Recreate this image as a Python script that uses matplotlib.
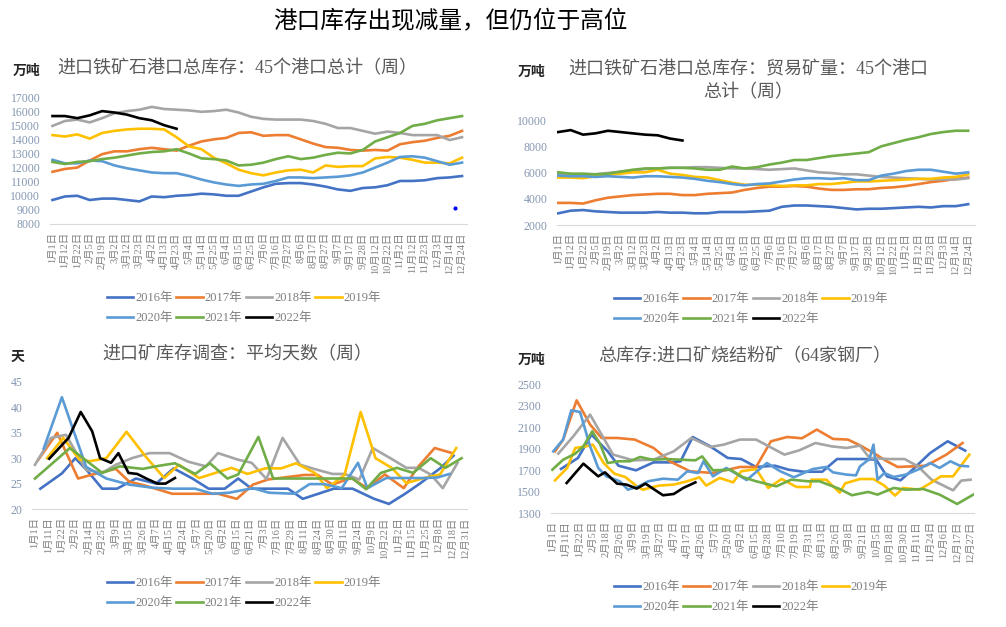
import numpy as np
import matplotlib
matplotlib.use('Agg')
from matplotlib import pyplot as plt

plt.rcParams['font.family'] = ['Liberation Serif', 'Noto Sans CJK SC']

W, H = 1006, 627

anos = ['2016年', '2017年', '2018年', '2019年', '2020年', '2021年', '2022年']
cores = ['#4472C4', '#ED7D31', '#A5A5A5', '#FFC000', '#5B9BD5', '#70AD47', '#000000']

# ---- graficos de cima: um valor por rotulo do eixo
datas_cima = ['1月1日', '1月12日', '1月22日', '2月5日', '2月19日', '3月2日', '3月12日', '3月23日',
              '4月2日', '4月13日', '4月23日', '5月4日', '5月14日', '5月25日', '6月4日', '6月15日',
              '6月25日', '7月6日', '7月16日', '7月27日', '8月6日', '8月17日', '8月27日', '9月7日',
              '9月17日', '9月28日', '10月12日', '10月22日', '11月2日', '11月12日', '11月23日',
              '12月3日', '12月14日', '12月24日']

tl_2016 = [9700, 9950, 10000, 9700, 9800, 9800, 9700, 9600, 9950, 9900, 10000, 10050, 10150, 10100,
           10000, 10000, 10300, 10600, 10850, 10900, 10900, 10800, 10650, 10450, 10350, 10550, 10600,
           10750, 11050, 11050, 11100, 11250, 11300, 11400]
tl_2017 = [11700, 11900, 12000, 12500, 12950, 13150, 13150, 13300, 13400, 13300, 13200, 13550, 13850,
           14000, 14100, 14450, 14500, 14250, 14300, 14300, 14000, 13700, 13450, 13400, 13250, 13200,
           13250, 13200, 13650, 13800, 13900, 14100, 14250, 14600]
tl_2018 = [14950, 15300, 15400, 15200, 15500, 15850, 16000, 16100, 16300, 16150, 16100, 16050, 15950,
           16000, 16100, 15900, 15600, 15450, 15400, 15400, 15400, 15300, 15100, 14800, 14800, 14600,
           14400, 14550, 14450, 14300, 14300, 14300, 13950, 14150]
tl_2019 = [14300, 14200, 14350, 14050, 14450, 14600, 14700, 14750, 14750, 14700, 14150, 13500, 13300,
           12700, 12300, 11850, 11600, 11450, 11650, 11800, 11850, 11650, 12150, 12050, 12100, 12100,
           12650, 12750, 12700, 12550, 12350, 12350, 12300, 12700]
tl_2020 = [12550, 12300, 12300, 12500, 12450, 12150, 11950, 11800, 11650, 11600, 11600, 11400, 11150,
           10950, 10800, 10700, 10800, 10850, 11050, 11300, 11300, 11250, 11300, 11350, 11450, 11650,
           12000, 12350, 12750, 12800, 12700, 12450, 12200, 12350]
tl_2021 = [12400, 12250, 12400, 12450, 12600, 12700, 12850, 13000, 13100, 13150, 13300, 13000, 12650,
           12600, 12500, 12150, 12200, 12350, 12600, 12800, 12600, 12700, 12900, 13050, 13000, 13250,
           13850, 14150, 14450, 14950, 15100, 15350, 15500, 15650]
tl_2022 = [15650, 15650, 15500, 15700, 16000, 15900, 15750, 15500, 15350, 15000, 14750]
tl_ponto = (32.4, 9100)  # ponto azul solto no grafico original

tr_2016 = [2900, 3100, 3150, 3050, 3000, 2950, 2950, 2950, 3000, 2950, 2950, 2900, 2900, 3000, 3000,
           3000, 3050, 3100, 3400, 3500, 3500, 3450, 3400, 3300, 3200, 3250, 3250, 3300, 3350, 3400,
           3350, 3450, 3450, 3600]
tr_2017 = [3700, 3700, 3650, 3900, 4100, 4200, 4300, 4350, 4400, 4400, 4300, 4300, 4400, 4450, 4500,
           4700, 4850, 4950, 4950, 5000, 4950, 4800, 4700, 4700, 4750, 4750, 4850, 4900, 5000, 5150,
           5300, 5400, 5550, 5650]
tr_2018 = [5900, 5900, 5850, 5900, 6000, 6100, 6200, 6300, 6350, 6400, 6400, 6450, 6450, 6400, 6350,
           6350, 6300, 6250, 6300, 6350, 6200, 6050, 6000, 5900, 5900, 5800, 5700, 5650, 5600, 5550,
           5500, 5500, 5500, 5600]
tr_2019 = [5650, 5650, 5600, 5750, 5850, 5950, 6050, 6050, 6250, 5950, 5850, 5700, 5650, 5450, 5250,
           5100, 5100, 5050, 5000, 5050, 5050, 5150, 5150, 5250, 5350, 5350, 5400, 5450, 5500, 5550,
           5550, 5650, 5700, 5900]
tr_2020 = [5800, 5750, 5750, 5700, 5750, 5700, 5650, 5750, 5750, 5700, 5650, 5550, 5400, 5300, 5150,
           5050, 5150, 5200, 5350, 5500, 5600, 5600, 5550, 5600, 5450, 5450, 5800, 5950, 6150, 6250,
           6250, 6100, 5950, 6050]
tr_2021 = [6050, 5950, 5950, 5900, 5950, 6100, 6250, 6350, 6350, 6400, 6400, 6350, 6250, 6250, 6500,
           6350, 6450, 6650, 6800, 7000, 7000, 7150, 7300, 7400, 7500, 7600, 8050, 8300, 8550, 8750,
           9000, 9150, 9250, 9250]
tr_2022 = [9150, 9300, 8950, 9050, 9250, 9150, 9050, 8950, 8900, 8650, 8500]

# ---- graficos de baixo: pares (posicao na categoria, valor)
datas_bl = ['1月1日', '1月11日', '1月22日', '2月2日', '2月14日', '2月25日', '3月9日', '3月15日', '3月26日',
            '4月7日', '4月15日', '4月24日', '5月7日', '5月20日', '6月2日', '6月15日', '6月21日', '7月3日',
            '7月16日', '7月29日', '8月11日', '8月24日', '8月30日', '9月11日', '9月24日', '10月9日',
            '10月22日', '11月2日', '11月15日', '11月25日', '12月8日', '12月18日', '12月31日']

bl_2016 = [(0.4, 24), (2.0, 27), (3.0, 30), (3.9, 27.5), (5.0, 24), (6.1, 24), (7.5, 26), (9.0, 25),
           (10.3, 28), (11.7, 26), (12.9, 24), (14.1, 24), (15.1, 26), (16.1, 24), (18.8, 24), (19.9, 22),
           (22.2, 24), (23.6, 24), (25.2, 22), (26.3, 21), (27.5, 23), (28.6, 25), (30.1, 28), (31.1, 30.5)]
bl_2017 = [(0.25, 29.7), (1.65, 35), (3.2, 26), (4.3, 26.8), (6.0, 27.9), (7.0, 25.4), (8.2, 24.6),
           (10.2, 23), (11.9, 23), (13.6, 23), (15.0, 22), (16.2, 24.8), (17.3, 25.8), (20.0, 26.7),
           (21.0, 26.7), (22.1, 24.8), (23.5, 26.1), (24.7, 24.1), (26.0, 26.8), (27.4, 24.1),
           (28.4, 28.1), (29.7, 32), (31.0, 31)]
bl_2018 = [(0.0, 28.7), (1.2, 34), (2.3, 34.6), (3.8, 27.7), (5.0, 27.1), (6.0, 28.7), (7.2, 30),
           (8.5, 31), (10.0, 31), (11.4, 29.3), (12.7, 28.4), (13.6, 31), (15.1, 29.7), (16.1, 29.1),
           (17.2, 25.9), (18.4, 34), (19.7, 28.7), (21.0, 27.7), (22.1, 26.9), (23.0, 26.9), (24.1, 25.8),
           (25.1, 32), (26.6, 29.7), (27.6, 28.1), (28.5, 28.1), (29.4, 26.8), (30.3, 24.1), (31.4, 29.1)]
bl_2019 = [(0.9, 30), (2.1, 34), (3.3, 29.7), (4.05, 29.4), (5.3, 30), (6.8, 35.2), (8.2, 30.4),
           (9.6, 26.1), (10.7, 28.7), (12.2, 26.1), (13.4, 27.1), (14.6, 28.1), (15.8, 26.9), (17.1, 28),
           (18.3, 28), (19.4, 29), (20.8, 27.1), (21.7, 24.1), (23.0, 26.7), (24.2, 39.1), (25.3, 30),
           (26.5, 28.1), (27.6, 25.1), (28.9, 26.1), (30.1, 26.8), (31.3, 32)]
bl_2020 = [(0.65, 31.9), (2.0, 42), (3.8, 28.3), (5.3, 26), (7.0, 24.8), (8.7, 24.2), (10.2, 24),
           (11.9, 24), (13.2, 23), (14.4, 23.2), (16.2, 24.1), (17.4, 23.2), (19.3, 23), (20.4, 24.9),
           (21.5, 24.9), (22.8, 24.1), (24.0, 29.1), (24.7, 24.1), (26.1, 26.1), (27.4, 26.1),
           (28.9, 26.1), (29.9, 26.2), (30.8, 26.9)]
bl_2021 = [(0.0, 26), (2.6, 32), (5.0, 27.1), (6.3, 28.4), (8.0, 27.9), (9.2, 28.5), (10.4, 29),
           (11.9, 26.9), (13.0, 29), (14.3, 26), (15.1, 26.8), (16.6, 34.2), (17.7, 26), (19.0, 26),
           (22.5, 26), (23.6, 26), (24.6, 23.9), (25.7, 27.1), (26.9, 28.1), (28.1, 27.1), (29.4, 30),
           (30.5, 28.1), (31.7, 30)]
bl_2022 = [(1.06, 29.9), (2.5, 34), (3.4, 39.1), (4.25, 35.3), (4.84, 30), (5.65, 29.1), (6.2, 31),
           (6.95, 27.1), (7.6, 26.9), (8.35, 25.9), (9.1, 25), (9.7, 25), (10.4, 26.1)]

datas_br = ['1月1日', '1月11日', '1月22日', '2月5日', '2月18日', '2月26日', '3月9日', '3月19日', '3月27日',
            '4月7日', '4月17日', '4月26日', '5月7日', '5月20日', '6月2日', '6月15日', '6月28日', '7月10日',
            '7月19日', '7月31日', '8月13日', '8月26日', '9月8日', '9月21日', '10月5日', '10月18日',
            '10月30日', '11月11日', '11月24日', '12月6日', '12月17日', '12月27日']

br_2016 = [(0.64, 1710), (1.9, 1812), (2.9, 2029), (4.1, 1874), (4.9, 1740), (6.2, 1697), (7.5, 1771),
           (8.7, 1771), (9.5, 1781), (10.4, 2007), (11.7, 1920), (13.0, 1812), (14.0, 1802), (15.1, 1728),
           (16.5, 1740), (17.5, 1703), (18.6, 1684), (20.0, 1684), (21.1, 1802), (23.1, 1802),
           (24.0, 1796), (24.8, 1641), (25.8, 1604), (26.7, 1703), (28.0, 1858), (29.3, 1967), (30.6, 1880)]
br_2017 = [(0.2, 1874), (0.8, 1983), (1.8, 2348), (2.8, 2122), (3.65, 1998), (4.8, 1998), (6.1, 1983),
           (7.5, 1905), (8.7, 1781), (10.2, 1688), (11.9, 1672), (13.9, 1728), (15.1, 1728), (16.2, 1967),
           (17.4, 2007), (18.5, 1995), (19.6, 2076), (20.8, 1989), (21.9, 1983), (22.8, 1930),
           (23.8, 1858), (24.8, 1781), (25.6, 1728), (26.7, 1734), (27.7, 1740), (29.2, 1843), (30.4, 1951)]
br_2018 = [(0.44, 1852), (1.55, 2013), (2.8, 2215), (4.5, 1843), (6.0, 1790), (7.5, 1796), (9.0, 1874),
           (10.3, 1998), (11.7, 1914), (12.7, 1936), (13.9, 1983), (15.1, 1983), (17.2, 1843),
           (18.3, 1883), (19.5, 1951), (20.7, 1920), (21.8, 1905), (22.8, 1927), (23.5, 1812),
           (24.9, 1802), (26.1, 1802), (27.1, 1734), (28.1, 1610), (29.7, 1511), (30.3, 1601), (31.0, 1610)]
br_2019 = [(0.2, 1604), (1.1, 1719), (1.7, 1905), (2.5, 1920), (3.0, 1936), (3.8, 1765), (4.6, 1666),
           (5.4, 1635), (6.2, 1555), (6.7, 1517), (7.9, 1555), (9.0, 1564), (10.0, 1595), (10.9, 1632),
           (11.4, 1555), (12.4, 1626), (13.4, 1585), (14.0, 1688), (15.1, 1709), (16.0, 1533),
           (17.0, 1616), (18.1, 1542), (19.1, 1542), (19.2, 1610), (20.3, 1610), (21.3, 1489),
           (21.7, 1576), (22.8, 1616), (23.8, 1616), (24.6, 1555), (25.4, 1462), (26.0, 1533),
           (27.2, 1517), (28.0, 1576), (28.8, 1641), (29.7, 1641), (30.9, 1843)]
br_2020 = [(0.07, 1874), (0.8, 1983), (1.4, 2255), (2.05, 2240), (2.8, 1920), (3.4, 1719), (4.0, 1641),
           (5.0, 1595), (5.6, 1517), (6.4, 1548), (7.1, 1595), (8.2, 1619), (9.3, 1610), (10.0, 1688),
           (10.8, 1672), (11.2, 1781), (11.9, 1641), (12.9, 1719), (14.4, 1607), (15.9, 1765),
           (16.9, 1688), (17.9, 1632), (19.3, 1709), (20.3, 1728), (20.8, 1678), (21.8, 1657),
           (22.5, 1650), (22.8, 1734), (23.5, 1802), (23.8, 1936), (24.1, 1610), (24.6, 1672),
           (25.3, 1635), (26.2, 1657), (27.2, 1709), (28.0, 1765), (28.7, 1719), (29.5, 1781),
           (30.2, 1740), (30.8, 1734)]
br_2021 = [(0.0, 1703), (0.8, 1796), (1.7, 1852), (2.3, 1920), (2.96, 2060), (3.5, 1951), (4.1, 1765),
           (4.9, 1781), (5.75, 1781), (6.5, 1821), (7.4, 1796), (8.5, 1802), (9.5, 1796), (10.6, 1790),
           (11.1, 1827), (11.9, 1697), (13.2, 1703), (14.1, 1635), (15.1, 1595), (16.6, 1548),
           (17.7, 1610), (18.96, 1595), (19.8, 1595), (21.3, 1523), (22.2, 1465), (23.4, 1496),
           (24.1, 1471), (25.3, 1533), (26.2, 1517), (27.5, 1523), (28.7, 1471), (30.0, 1384), (31.2, 1471)]
br_2022 = [(1.06, 1579), (2.3, 1759), (3.4, 1641), (3.9, 1678), (4.8, 1573), (5.5, 1564), (6.25, 1527),
           (6.9, 1573), (7.5, 1523), (8.2, 1465), (9.0, 1477), (9.7, 1533), (10.6, 1585)]


def caixa(x0, y0, x1, y1):
    # pixels -> fracao da figura
    return [x0 / W, 1 - y1 / H, (x1 - x0) / W, (y1 - y0) / H]


def texto(fig, x, y, s, **kw):
    fig.text(x / W, 1 - y / H, s, ha='center', va='center', **kw)


def estilo(ax, datas, xlim, ylim, yticks):
    for lado in ['top', 'right', 'left']:
        ax.spines[lado].set_visible(False)
    ax.spines['bottom'].set_color('#d9d9d9')
    ax.spines['bottom'].set_linewidth(0.8)
    ax.set_xticks(range(len(datas)))
    ax.set_xticklabels(datas, rotation=90, fontsize=7.5, color='#7f7f7f')
    ax.set_yticks(yticks)
    ax.set_yticklabels([str(v) for v in yticks], fontsize=8.5, color='#8497b0')
    ax.tick_params(length=0, pad=6)
    ax.tick_params(axis='y', pad=7)
    ax.set_xlim(*xlim)
    ax.set_ylim(*ylim)


def legenda(ax, linhas, cx, cy):
    ordem = [0, 4, 1, 5, 2, 6, 3]
    ax.legend([linhas[i] for i in ordem], [anos[i] for i in ordem], ncol=4, loc='center',
              bbox_to_anchor=(cx / W, 1 - cy / H), bbox_transform=fig.transFigure,
              frameon=False, fontsize=9, handlelength=2.1, handletextpad=0.15,
              columnspacing=0.3, labelspacing=0.62, labelcolor='#7f7f7f')


fig = plt.figure(figsize=(W / 100, H / 100), dpi=100)
fig.patch.set_facecolor('white')

texto(fig, 450, 22, '港口库存出现减量，但仍位于高位', fontsize=17, color='black')

# 1) estoque total nos portos
ax1 = fig.add_axes(caixa(50, 97, 467, 224))
linhas = []
for serie, cor in zip([tl_2016, tl_2017, tl_2018, tl_2019, tl_2020, tl_2021, tl_2022], cores):
    ln, = ax1.plot(range(len(serie)), serie, color=cor, lw=1.9)
    linhas.append(ln)
ax1.plot([tl_ponto[0]], [tl_ponto[1]], 'o', color='#0000ff', ms=2)
estilo(ax1, datas_cima, (-0.2, 33.4), (8000, 17000), list(range(8000, 17001, 1000)))
legenda(ax1, linhas, 244, 308)
texto(fig, 237, 69, '进口铁矿石港口总库存：45个港口总计（周）', fontsize=13, color='#595959')
texto(fig, 27, 71, '万吨', fontsize=10, color='#262626', fontweight='bold')

# 2) minerio de comercio
ax2 = fig.add_axes(caixa(557, 121, 975, 225))
linhas = []
for serie, cor in zip([tr_2016, tr_2017, tr_2018, tr_2019, tr_2020, tr_2021, tr_2022], cores):
    ln, = ax2.plot(range(len(serie)), serie, color=cor, lw=1.9)
    linhas.append(ln)
estilo(ax2, datas_cima, (-0.1, 33.55), (2000, 10000), list(range(2000, 10001, 2000)))
legenda(ax2, linhas, 751, 309)
texto(fig, 748, 81, '进口铁矿石港口总库存：贸易矿量：45个港口\n总计（周）', fontsize=13,
      color='#595959', linespacing=1.4)
texto(fig, 532, 72, '万吨', fontsize=10, color='#262626', fontweight='bold')

# 3) dias medios
ax3 = fig.add_axes(caixa(32, 382, 467, 509))
linhas = []
for serie, cor in zip([bl_2016, bl_2017, bl_2018, bl_2019, bl_2020, bl_2021, bl_2022], cores):
    xs, ys = zip(*serie)
    ln, = ax3.plot(xs, ys, color=cor, lw=1.9)
    linhas.append(ln)
estilo(ax3, datas_bl, (-0.22, 32.1), (20, 45), list(range(20, 46, 5)))
legenda(ax3, linhas, 244, 593)
texto(fig, 237, 355, '进口矿库存调查：平均天数（周）', fontsize=13, color='#595959')
texto(fig, 18, 357, '天', fontsize=10, color='#262626', fontweight='bold')

# 4) sinter 64 usinas
ax4 = fig.add_axes(caixa(551, 384, 974, 513))
linhas = []
for serie, cor in zip([br_2016, br_2017, br_2018, br_2019, br_2020, br_2021, br_2022], cores):
    xs, ys = zip(*serie)
    ln, = ax4.plot(xs, ys, color=cor, lw=1.9)
    linhas.append(ln)
estilo(ax4, datas_br, (-0.1, 31.25), (1300, 2500), list(range(1300, 2501, 200)))
legenda(ax4, linhas, 751, 597)
texto(fig, 745, 357, '总库存:进口矿烧结粉矿（64家钢厂）', fontsize=13, color='#595959')
texto(fig, 532, 360, '万吨', fontsize=10, color='#262626', fontweight='bold')

fig.savefig('out.png', dpi=100, facecolor='white')
